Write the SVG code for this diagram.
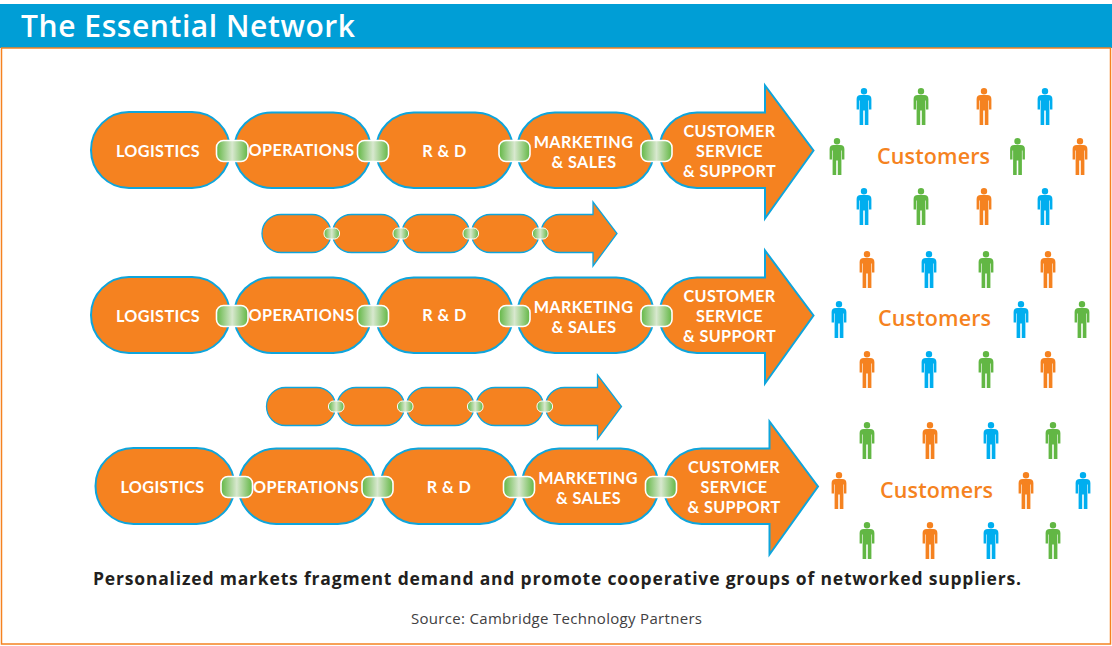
<svg xmlns="http://www.w3.org/2000/svg" xmlns:xlink="http://www.w3.org/1999/xlink" width="1112" height="646" viewBox="0 0 1112 646">
<style>
text{font-family:"Open Sans","Noto Sans","Liberation Sans",sans-serif}
.s{fill:#f58220;stroke:#0ea5dc;stroke-width:2}
.ss{fill:#f58220;stroke:#0ea5dc;stroke-width:1.3}
.l{fill:#fff;font-family:Lato,"Open Sans",sans-serif;font-size:16.2px;font-weight:700;text-anchor:middle;letter-spacing:.4px}
.c{fill:url(#g);stroke:#fff;stroke-width:1.6}
.cs{fill:url(#g);stroke:#fff;stroke-width:1}
.cu{fill:#f58220;font-size:21.5px;font-weight:600}
.b{fill:#00aeef}.o{fill:#f58220}.n{fill:#62b744}
</style>
<defs>
<linearGradient id="g"><stop offset="0" stop-color="#62b744"/><stop offset=".5" stop-color="#d8e8cf"/><stop offset="1" stop-color="#62b744"/></linearGradient>
<path id="p" d="M-3.2 7H3.2Q7.4 7 7.4 11V21.5H5V12.5H4.400V37H.8V22.500H-.8V37H-4.400V12.500H-5V21.500H-7.400V11Q-7.400 7 -3.200 7ZM0 0A3.200 3.200 0 1 1 0 6.400A3.200 3.200 0 1 1 0 0Z"/>
<g id="arrowBig"><path class="s" d="M697 112.500H765V85.500L813.500 150.500L765 218.500V188H697A37.750 37.750 0 0 1 697 112.500Z"/></g>
<g id="chain">
<rect class="s" x="91" y="112" width="139" height="76" rx="38"/>
<rect class="s" x="234" y="112.500" width="137" height="75.500" rx="37.750"/>
<rect class="s" x="376" y="112.500" width="137" height="75.500" rx="37.750"/>
<rect class="s" x="517" y="112.500" width="137" height="75.500" rx="37.750"/>
</g>
<g id="smallChain">
<rect class="ss" x="262" y="214.500" width="69" height="38" rx="19"/>
<rect class="ss" x="332.500" y="214.500" width="67.500" height="38" rx="19"/>
<rect class="ss" x="402" y="214.500" width="67.500" height="38" rx="19"/>
<rect class="ss" x="471.500" y="214.500" width="67.500" height="38" rx="19"/>
<path class="ss" d="M560 214.500H593V202L617 233.500L593 266V252.500H560A19 19 0 0 1 560 214.500Z"/>
<rect class="cs" x="324" y="228" width="15.500" height="11" rx="5"/>
<rect class="cs" x="393" y="228" width="15.500" height="11" rx="5"/>
<rect class="cs" x="463" y="228" width="15.500" height="11" rx="5"/>
<rect class="cs" x="532.500" y="228" width="15.500" height="11" rx="5"/>
</g>
</defs>
<g id="header"><rect x="0" y="4" width="1112" height="44" fill="#009ed6"/>
<text x="21" y="37" font-size="30" font-weight="600" fill="#fff" textLength="334">The Essential Network</text></g>
<rect id="frame" x="1.500" y="48" width="1109" height="596" fill="none" stroke="#f58220" stroke-width="1.500"/>

<g id="connectors">
<use xlink:href="#smallChain"/>
<use xlink:href="#smallChain" transform="translate(4.500 173)"/>
</g>

<g id="row1">
<use xlink:href="#chain"/><use xlink:href="#arrowBig"/>
<rect class="c" x="216.500" y="140.500" width="31.500" height="21" rx="7"/>
<rect class="c" x="357.500" y="140.500" width="31" height="21" rx="7"/>
<rect class="c" x="499" y="140.500" width="31" height="21" rx="7"/>
<rect class="c" x="641" y="140.500" width="31" height="21" rx="7"/>
<text class="l" x="158" y="157">LOGISTICS</text>
<text class="l" x="301.500" y="156">OPERATIONS</text>
<text class="l" x="444.500" y="156.500">R &amp; D</text>
<text class="l" x="583.500" y="148">MARKETING</text><text class="l" x="584" y="168">&amp; SALES</text>
<text class="l" x="729.500" y="136.500">CUSTOMER</text><text class="l" x="729.500" y="156.500">SERVICE</text><text class="l" x="729.500" y="176.500">&amp; SUPPORT</text>
</g>
<g id="row2" transform="translate(0 165)">
<use xlink:href="#chain"/><use xlink:href="#arrowBig"/>
<rect class="c" x="216.500" y="140.500" width="31.500" height="21" rx="7"/>
<rect class="c" x="357.500" y="140.500" width="31" height="21" rx="7"/>
<rect class="c" x="499" y="140.500" width="31" height="21" rx="7"/>
<rect class="c" x="641" y="140.500" width="31" height="21" rx="7"/>
<text class="l" x="158" y="156.500">LOGISTICS</text>
<text class="l" x="301.500" y="156">OPERATIONS</text>
<text class="l" x="444.500" y="156">R &amp; D</text>
<text class="l" x="583.500" y="148">MARKETING</text><text class="l" x="584" y="168">&amp; SALES</text>
<text class="l" x="729.500" y="136.500">CUSTOMER</text><text class="l" x="729.500" y="156.500">SERVICE</text><text class="l" x="729.500" y="176.500">&amp; SUPPORT</text>
</g>
<g id="row3" transform="translate(4.500 336)">
<use xlink:href="#chain"/><use xlink:href="#arrowBig"/>
<rect class="c" x="216.500" y="140.500" width="31.500" height="21" rx="7"/>
<rect class="c" x="357.500" y="140.500" width="31" height="21" rx="7"/>
<rect class="c" x="499" y="140.500" width="31" height="21" rx="7"/>
<rect class="c" x="641" y="140.500" width="31" height="21" rx="7"/>
<text class="l" x="158" y="157">LOGISTICS</text>
<text class="l" x="301.500" y="156.500">OPERATIONS</text>
<text class="l" x="444.500" y="156.500">R &amp; D</text>
<text class="l" x="583.500" y="148">MARKETING</text><text class="l" x="584" y="168">&amp; SALES</text>
<text class="l" x="729.500" y="136.500">CUSTOMER</text><text class="l" x="729.500" y="156.500">SERVICE</text><text class="l" x="729.500" y="176.500">&amp; SUPPORT</text>
</g>

<g id="customers1">
<use xlink:href="#p" class="b" x="864" y="88"/><use xlink:href="#p" class="n" x="921" y="88"/><use xlink:href="#p" class="o" x="984" y="88"/><use xlink:href="#p" class="b" x="1045" y="88"/>
<use xlink:href="#p" class="n" x="837" y="138"/><use xlink:href="#p" class="n" x="1017.500" y="138"/><use xlink:href="#p" class="o" x="1080" y="138"/>
<use xlink:href="#p" class="b" x="864" y="188"/><use xlink:href="#p" class="n" x="921" y="188"/><use xlink:href="#p" class="o" x="984" y="188"/><use xlink:href="#p" class="b" x="1045" y="188"/>
<text class="cu" x="877" y="164" textLength="113">Customers</text>
</g>
<g id="customers2">
<use xlink:href="#p" class="o" x="867" y="251"/><use xlink:href="#p" class="b" x="929" y="251"/><use xlink:href="#p" class="n" x="986" y="251"/><use xlink:href="#p" class="o" x="1048" y="251"/>
<use xlink:href="#p" class="b" x="839" y="301"/><use xlink:href="#p" class="b" x="1021" y="301"/><use xlink:href="#p" class="n" x="1082" y="301"/>
<use xlink:href="#p" class="o" x="867" y="351"/><use xlink:href="#p" class="b" x="929" y="351"/><use xlink:href="#p" class="n" x="986" y="351"/><use xlink:href="#p" class="o" x="1048" y="351"/>
<text class="cu" x="878" y="326" textLength="113">Customers</text>
</g>
<g id="customers3">
<use xlink:href="#p" class="n" x="867" y="422"/><use xlink:href="#p" class="o" x="930" y="422"/><use xlink:href="#p" class="b" x="991" y="422"/><use xlink:href="#p" class="n" x="1053" y="422"/>
<use xlink:href="#p" class="o" x="839" y="472"/><use xlink:href="#p" class="o" x="1026" y="472"/><use xlink:href="#p" class="b" x="1083" y="472"/>
<use xlink:href="#p" class="n" x="867" y="522"/><use xlink:href="#p" class="o" x="930" y="522"/><use xlink:href="#p" class="b" x="991" y="522"/><use xlink:href="#p" class="n" x="1053" y="522"/>
<text class="cu" x="880" y="498" textLength="113">Customers</text>
</g>
<text id="caption" x="93" y="585" font-size="17.500" font-weight="700" fill="#231f20" textLength="928">Personalized markets fragment demand and promote cooperative groups of networked suppliers.</text>
<text id="source" x="411" y="624" font-size="15" fill="#414042" textLength="291">Source: Cambridge Technology Partners</text>
</svg>
